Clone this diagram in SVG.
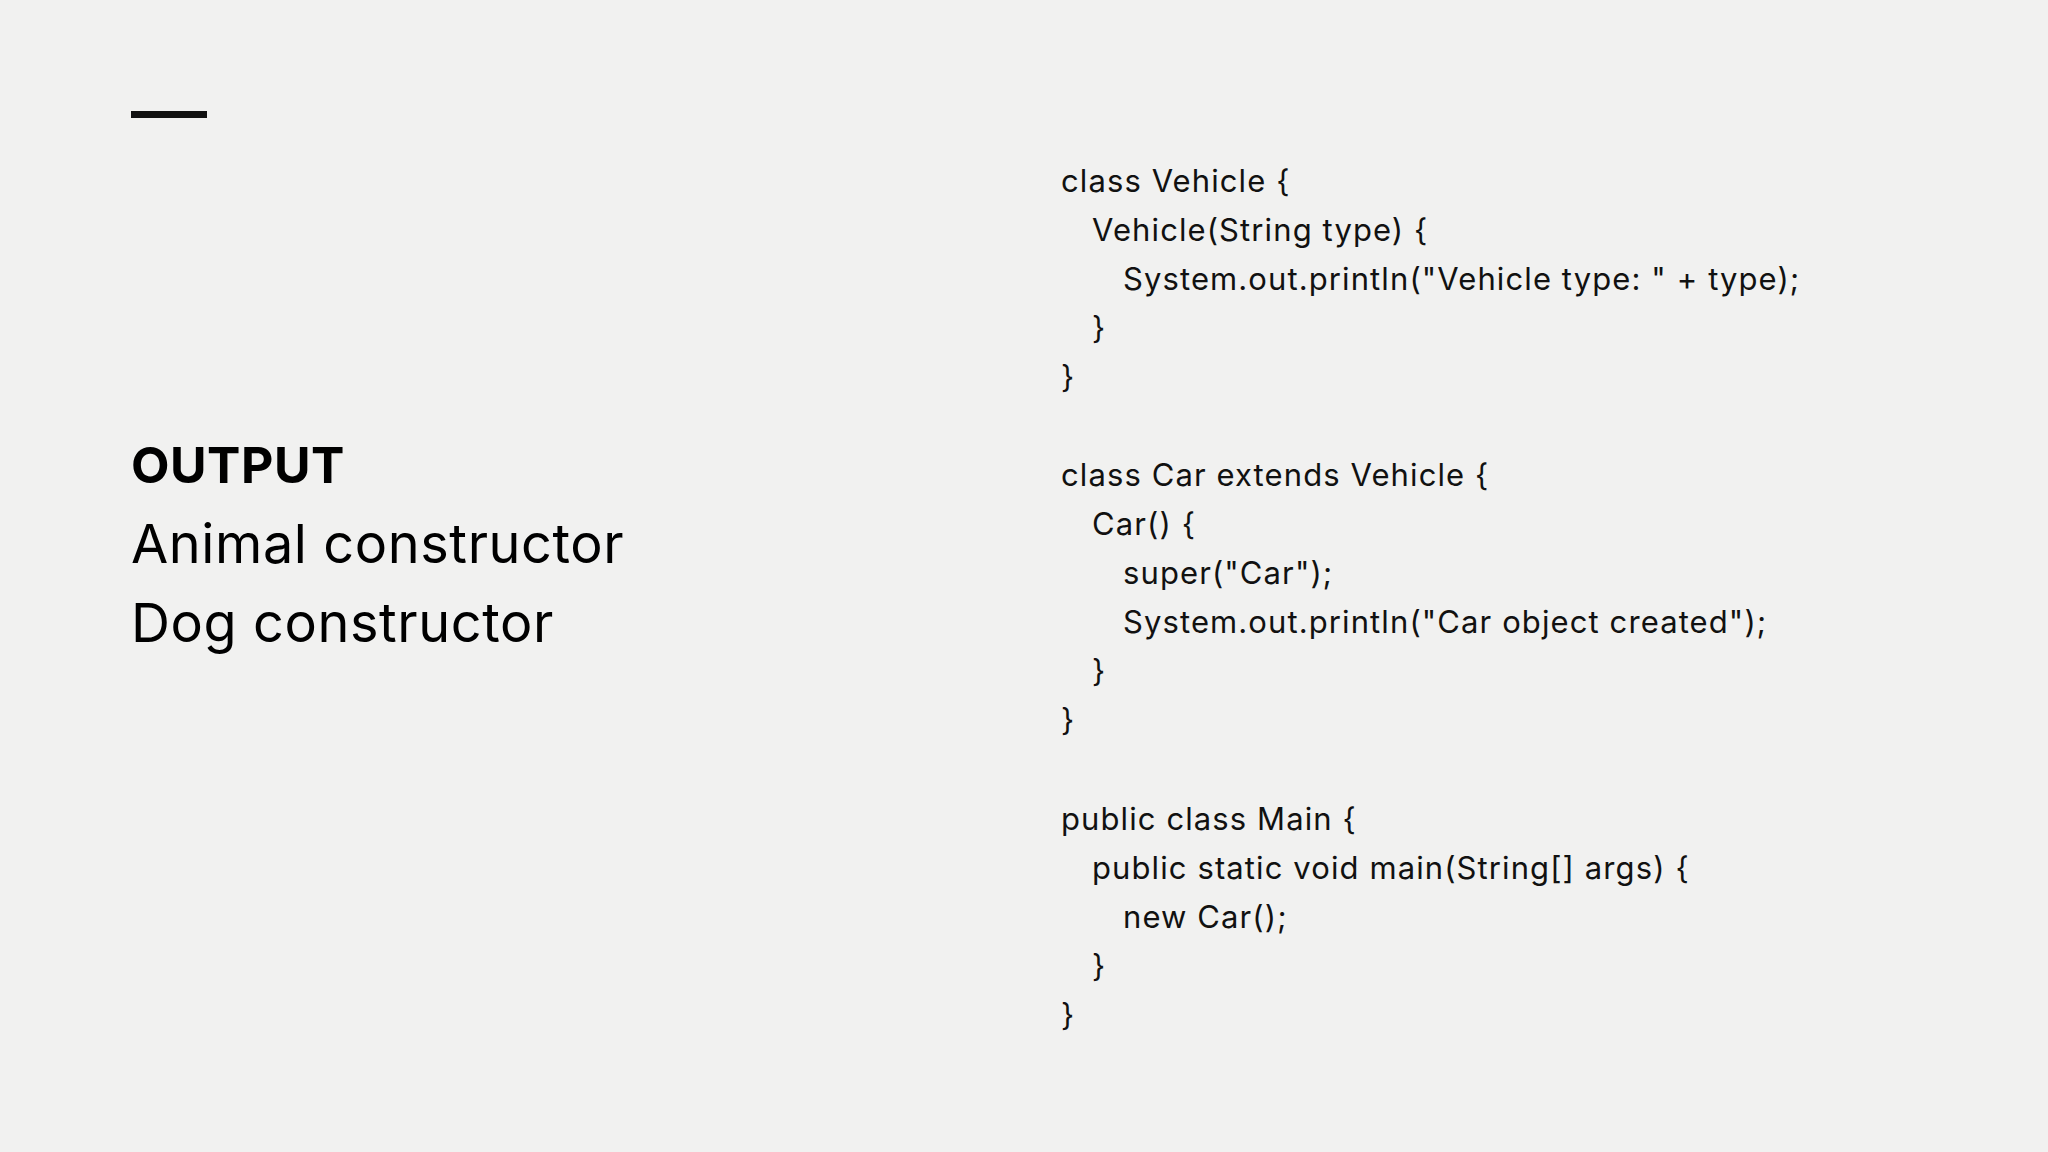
<svg xmlns="http://www.w3.org/2000/svg" width="2048" height="1152" viewBox="0 0 2048 1152">
<style>
.h{font-family:Inter,"Liberation Sans",sans-serif;fill:#000}
.c{font-family:Inter,"Liberation Sans",sans-serif;font-size:31px;letter-spacing:1.1px;fill:#111}
</style>
<rect width="2048" height="1152" fill="#f1f1f0"/>
<rect x="131" y="111" width="76" height="7" fill="#111"/>
<text class="h" x="131" y="483" font-size="50" font-weight="bold" letter-spacing="0.5">OUTPUT</text>
<text class="h" x="131" y="563" font-size="54" letter-spacing="0.6">Animal constructor</text>
<text class="h" x="131" y="642" font-size="54" letter-spacing="0.6">Dog constructor</text>
<g class="c">
<text class="c" x="1061" y="192">class Vehicle {</text>
<text class="c" x="1092" y="241">Vehicle(String type) {</text>
<text class="c" x="1123" y="290">System.out.println("Vehicle type: " + type);</text>
<text class="c" x="1092" y="339">}</text>
<text class="c" x="1061" y="388">}</text>
<text class="c" x="1061" y="486">class Car extends Vehicle {</text>
<text class="c" x="1092" y="535">Car() {</text>
<text class="c" x="1123" y="584">super("Car");</text>
<text class="c" x="1123" y="633">System.out.println("Car object created");</text>
<text class="c" x="1092" y="682">}</text>
<text class="c" x="1061" y="731">}</text>
<text class="c" x="1061" y="830">public class Main {</text>
<text class="c" x="1092" y="879">public static void main(String[] args) {</text>
<text class="c" x="1123" y="928">new Car();</text>
<text class="c" x="1092" y="977">}</text>
<text class="c" x="1061" y="1026">}</text>
</g>
</svg>
